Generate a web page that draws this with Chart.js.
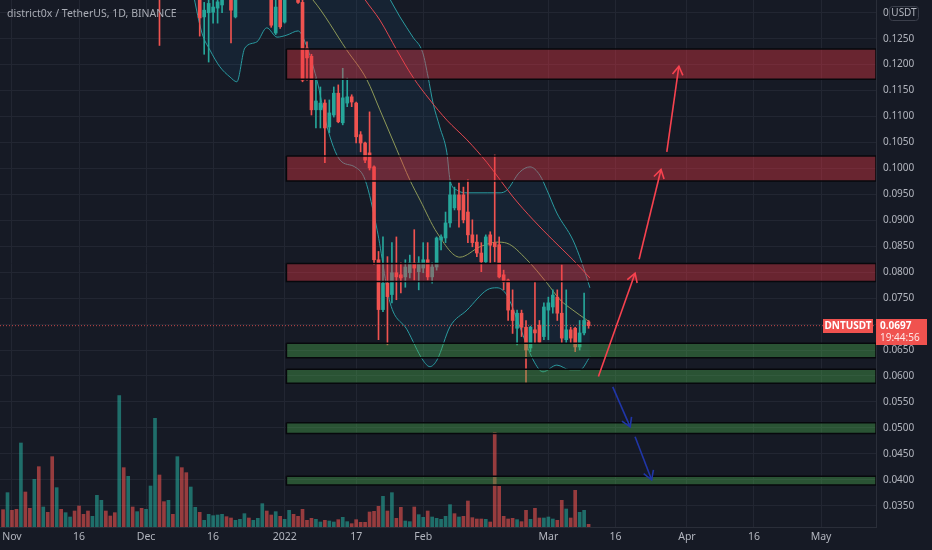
<!DOCTYPE html>
<html>
<head>
<meta charset="utf-8">
<title>DNTUSDT 1D</title>
<script src="https://cdn.jsdelivr.net/npm/chart.js@4.4.1/dist/chart.umd.min.js"></script>
<style>
  html, body { margin: 0; padding: 0; background: #161a25; }
  #wrap { width: 932px; height: 550px; position: relative; }
</style>
</head>
<body>
<div id="wrap"><canvas id="chart"></canvas></div>
<script>
// day 0 = 1 Nov 2021, one candle per day
const tickDays = [0, 15, 30, 45, 61, 77, 92, 120, 135, 151, 166, 181];
const tickLabels = ['Nov', '16', 'Dec', '16', '2022', '17', 'Feb', 'Mar', '16', 'Apr', '16', 'May'];
const priceTicks = [0.035, 0.040, 0.045, 0.050, 0.055, 0.060, 0.065, 0.070, 0.075, 0.080,
  0.085, 0.090, 0.095, 0.100, 0.105, 0.110, 0.115, 0.120, 0.125, 0.130];

const candleDays = [33, 42, 43, 44, 45, 46, 47, 49, 50, 58,
  59, 60, 61, 64, 65, 66, 67, 68, 69, 70,
  71, 72, 73, 74, 75, 76, 77, 78, 79, 80,
  81, 82, 83, 84, 85, 86, 87, 88, 89, 90,
  91, 92, 93, 94, 95, 96, 97, 98, 99, 100,
  101, 102, 103, 104, 105, 106, 107, 108, 109, 110,
  111, 112, 113, 114, 115, 116, 117, 118, 119, 120,
  121, 122, 123, 124, 125, 126, 127, 128, 129];
const opens = [.1400, .1360, .1292, .1300, .1301, .1309, .1315, .1340, .1292, .1340,
  .1261, .1340, .1282, .1340, .1320, .1232, .1216, .1113, .1113, .1126,
  .1080, .1103, .1145, .1088, .1126, .1138, .1126, .1065, .1049, .1030,
  .1003, .0824, .0728, .0779, .0757, .0799, .0795, .0791, .0799, .0818,
  .0801, .0808, .0824, .0791, .0810, .0862, .0866, .0895, .0924, .0949,
  .0949, .0916, .0872, .0858, .0837, .0820, .0872, .0857, .0853, .0795,
  .0785, .0727, .0692, .0721, .0694, .0654, .0689, .0698, .0676, .0727,
  .0733, .0752, .0721, .0670, .0689, .0692, .0656, .0683, .0704];
const highs = [.1420, .1380, .1320, .1340, .1330, .1340, .1360, .1360, .1360, .1360,
  .1330, .1360, .1360, .1360, .1330, .1244, .1220, .1174, .1157, .1132,
  .1132, .1157, .1161, .1193, .1174, .1142, .1128, .1071, .1051, .1109,
  .1005, .0840, .0868, .0830, .0857, .0868, .0818, .0824, .0833, .0882,
  .0830, .0857, .0857, .0818, .0868, .0872, .0916, .0978, .0964, .0972,
  .0964, .0978, .0901, .0872, .0857, .0872, .0878, .1026, .0868, .0804,
  .0787, .0766, .0727, .0727, .0707, .0696, .0781, .0707, .0741, .0752,
  .0766, .0766, .0814, .0766, .0694, .0694, .0707, .0760, .0707];
const lows = [.1237, .1255, .1220, .1205, .1280, .1280, .1300, .1242, .1290, .1272,
  .1258, .1270, .1280, .1318, .1167, .1170, .1103, .1078, .1078, .1011,
  .1069, .1099, .1088, .1084, .1119, .1119, .1049, .1032, .1011, .0997,
  .0815, .0670, .0724, .0660, .0741, .0747, .0760, .0771, .0789, .0785,
  .0766, .0799, .0785, .0779, .0804, .0843, .0857, .0887, .0920, .0887,
  .0895, .0857, .0849, .0830, .0801, .0818, .0818, .0820, .0789, .0766,
  .0707, .0682, .0660, .0676, .0587, .0647, .0664, .0664, .0670, .0670,
  .0721, .0707, .0664, .0664, .0664, .0647, .0650, .0679, .0692];
const closes = [.1350, .1290, .1305, .1318, .1311, .1321, .1340, .1305, .1340, .1276,
  .1311, .1273, .1340, .1320, .1170, .1213, .1113, .1130, .1126, .1078,
  .1107, .1145, .1090, .1136, .1138, .1128, .1061, .1049, .1016, .1001,
  .0824, .0728, .0779, .0753, .0799, .0791, .0789, .0810, .0818, .0808,
  .0818, .0824, .0791, .0810, .0866, .0868, .0895, .0949, .0949, .0920,
  .0901, .0872, .0857, .0837, .0820, .0868, .0852, .0849, .0791, .0781,
  .0727, .0707, .0721, .0694, .0650, .0694, .0683, .0665, .0733, .0741,
  .0756, .0721, .0673, .0689, .0673, .0656, .0683, .0707, .0697];

// volume from day -2 (30 Oct) to day 129 (10 Mar)
const volStart = -2;
const volValues = [52, 103, 50, 53, 252, 105, 56, 143, 181, 60,
  44, 211, 118, 53, 43, 30, 48, 63, 38, 48,
  32, 95, 80, 48, 33, 43, 394, 178, 152, 60,
  46, 56, 53, 123, 326, 156, 76, 80, 38, 211,
  178, 163, 120, 59, 44, 20, 38, 34, 36, 38,
  31, 27, 20, 23, 40, 27, 20, 26, 70, 48,
  36, 46, 32, 23, 50, 38, 32, 53, 20, 26,
  23, 15, 20, 18, 15, 22, 29, 16, 10, 22,
  14, 14, 45, 47, 62, 92, 48, 103, 26, 59,
  18, 16, 60, 37, 29, 48, 30, 26, 23, 32,
  67, 40, 30, 32, 78, 28, 24, 24, 23, 15,
  284, 122, 32, 24, 26, 22, 16, 50, 23, 56,
  27, 27, 30, 24, 20, 80, 54, 27, 110, 44,
  50, 8];
const volDir = 'dudduddudu' + 'dduduudddd' + 'uuudddudud' + 'uduuuddudu' + 'dduuduuuuu' +
  'dduuuduuud' + 'duduuddddd' + 'uuduuduudd' + 'dddddududd' + 'uuduuduuuu' +
  'ududddddud' + 'ddddduddud' + 'duuudduddu' + 'ud';

// Bollinger bands (20, 2) and moving average
const upperDays = [40, 55, 70, 80, 84, 86.8, 89.7, 91.9, 93.1, 94.2, 95.7, 97.3, 98.0, 99.6,
  101.8, 106.3, 109.2, 110.7, 113.6, 115.9, 118.1, 119.7, 121.9, 125.5, 127.5, 129.3];
const upperVals = [0.160, 0.156, 0.148, 0.140, 0.1335, 0.1292, 0.1253, 0.1223, 0.1176, 0.1126, 0.1080, 0.1030, 0.0978, 0.0958,
  0.0953, 0.0953, 0.0953, 0.0958, 0.0993, 0.1003, 0.0987, 0.0958, 0.0914, 0.0862, 0.0818, 0.0770];
const lowerDays = [40, 42.5, 44.3, 46.5, 48.8, 50.3, 52.1, 54.8, 57.0, 59.3, 61.5, 64.0, 65.1, 68.2,
  70.5, 73.4, 76.7, 79.0, 81.7, 84.6, 88.4, 91.9, 93.5, 95.1, 98.0, 101.8, 106.3, 108.5,
  110.7, 113.6, 116.6, 118.8, 121.9, 124.8, 127.1, 129.3];
const lowerVals = [0.136, 0.1261, 0.1228, 0.1196, 0.1176, 0.1167, 0.1232, 0.1244, 0.1271, 0.1253, 0.1257, 0.1265, 0.1253, 0.1171,
  0.1080, 0.1016, 0.1003, 0.0978, 0.0881, 0.0741, 0.0689, 0.0631, 0.0618, 0.0631, 0.0695, 0.0727, 0.0766, 0.0770,
  0.0756, 0.0695, 0.0631, 0.0608, 0.0621, 0.0612, 0.0612, 0.0637];
const basisDays = [55, 67.3, 74.9, 79.4, 82.3, 86.1, 89.0, 91.3, 95.1, 100.2, 104.7, 108.5, 110.7,
  115.2, 119.7, 122.6, 125.5, 128.6, 129.3];
const basisVals = [0.142, 0.1325, 0.1228, 0.1171, 0.1113, 0.1036, 0.0978, 0.0939, 0.0876, 0.0829, 0.0849, 0.0858, 0.0856,
  0.0824, 0.0779, 0.0747, 0.0727, 0.0708, 0.0704];
const maDays = [72, 79.0, 82.3, 86.1, 89.7, 93.5, 97.3, 101.8, 106.3, 109.2, 112.1, 116.6, 121.0, 125.5, 129.3];
const maVals = [0.142, 0.1325, 0.1286, 0.1228, 0.1176, 0.1132, 0.1093, 0.1055, 0.1011, 0.0978, 0.0945, 0.0901, 0.0862, 0.0824, 0.0789];

// drawn zones [top, bottom], starting 1 Jan 2022
const zoneStart = 61.4;
const redZones = [[0.1230, 0.1172], [0.1024, 0.0976], [0.0817, 0.0782]];
const greenZones = [[0.0663, 0.0635], [0.0613, 0.0586], [0.0510, 0.0489], [0.0407, 0.0390]];

// arrows [fromDay, fromPrice, toDay, toPrice]
const arrowPaths = [[131.2, 0.0599, 139.4, 0.0798], [140.3, 0.0825, 145.2, 0.0998], [146.5, 0.1032, 149.2, 0.1197],
  [134.4, 0.0579, 138.3, 0.0502], [139.4, 0.0483, 143.1, 0.0400]];
const arrowKinds = ['up', 'up', 'up', 'down', 'down'];

const lastPrice = closes[closes.length - 1];
const xMin = -2.68, xMax = 193.3;

const upCol = '#26a69a', downCol = '#ef5350';
const arrowCol = { up: '#f7424f', down: '#2036a8' };
const candleCol = i => closes[i] >= opens[i] ? upCol : downCol;

Chart.defaults.font.family = "'Noto Sans', 'DejaVu Sans', sans-serif";
Chart.defaults.color = '#b2b5be';

const pts = (xs, ys) => xs.map((d, i) => ({ x: d, y: ys[i] }));
const lineBase = { type: 'line', pointRadius: 0, borderWidth: 1, fill: false, cubicInterpolationMode: 'monotone' };

const datasets = [];
datasets.push({
  type: 'bar', yAxisID: 'yv', order: 9, grouped: false, barThickness: 3,
  data: volValues.map((v, i) => ({ x: volStart + i, y: v })),
  backgroundColor: c => volDir[c.dataIndex] === 'u' ? 'rgba(38,166,154,0.6)' : 'rgba(239,83,80,0.6)'
});
const lowerIdx = datasets.push(Object.assign({}, lineBase, {
  order: 8, data: pts(lowerDays, lowerVals), borderColor: '#2a9ba0'
})) - 1;
datasets.push(Object.assign({}, lineBase, {
  order: 8, data: pts(upperDays, upperVals), borderColor: '#2a9ba0',
  fill: lowerIdx, backgroundColor: 'rgba(33,150,243,0.07)'
}));
datasets.push(Object.assign({}, lineBase, { order: 7, data: pts(basisDays, basisVals), borderColor: '#8e9a58' }));
datasets.push(Object.assign({}, lineBase, { order: 7, data: pts(maDays, maVals), borderColor: '#e2474f' }));
datasets.push({
  type: 'bar', order: 6, grouped: false, barThickness: 1,
  data: candleDays.map((d, i) => ({ x: d, y: [lows[i], highs[i]] })),
  backgroundColor: c => candleCol(c.dataIndex)
});
datasets.push({
  type: 'bar', order: 5, grouped: false, barThickness: 3, minBarLength: 1,
  data: candleDays.map((d, i) => ({ x: d, y: [opens[i], closes[i]] })),
  backgroundColor: c => candleCol(c.dataIndex)
});
const zoneSet = (z, fillCol) => ({
  type: 'line', order: 2, pointRadius: 0, borderWidth: 1.5, borderColor: '#07080c',
  backgroundColor: fillCol, fill: 'shape',
  data: [{ x: zoneStart, y: z[0] }, { x: xMax, y: z[0] }, { x: xMax, y: z[1] },
    { x: zoneStart, y: z[1] }, { x: zoneStart, y: z[0] }]
});
redZones.forEach(z => datasets.push(zoneSet(z, 'rgba(242,54,69,0.38)')));
greenZones.forEach(z => datasets.push(zoneSet(z, 'rgba(76,175,80,0.38)')));
datasets.push({
  type: 'line', order: 1, pointRadius: 0, borderWidth: 1, borderDash: [1, 2],
  borderColor: 'rgba(239,83,80,0.8)',
  data: [{ x: xMin, y: lastPrice }, { x: xMax, y: lastPrice }]
});
arrowPaths.forEach((p, i) => datasets.push({
  type: 'line', order: 0, pointRadius: 0, borderWidth: 1.6, borderColor: arrowCol[arrowKinds[i]],
  data: [{ x: p[0], y: p[1] }, { x: p[2], y: p[3] }]
}));

const decor = {
  id: 'decor',
  afterDatasetsDraw(chart) {
    const { ctx, scales: { x, y } } = chart;
    arrowPaths.forEach((p, i) => {
      const x1 = x.getPixelForValue(p[0]), y1 = y.getPixelForValue(p[1]);
      const x2 = x.getPixelForValue(p[2]), y2 = y.getPixelForValue(p[3]);
      const ang = Math.atan2(y2 - y1, x2 - x1);
      const len = 10;
      ctx.save();
      ctx.strokeStyle = arrowCol[arrowKinds[i]];
      ctx.lineWidth = 1.6;
      ctx.beginPath();
      ctx.moveTo(x2 - len * Math.cos(ang - 0.55), y2 - len * Math.sin(ang - 0.55));
      ctx.lineTo(x2, y2);
      ctx.lineTo(x2 - len * Math.cos(ang + 0.55), y2 - len * Math.sin(ang + 0.55));
      ctx.stroke();
      ctx.restore();
    });
  },
  afterDraw(chart) {
    const { ctx, chartArea: a, scales: { y } } = chart;
    ctx.save();
    ctx.textBaseline = 'middle';
    ctx.font = "10.5px 'Noto Sans'";
    ctx.fillStyle = '#a9acb5';
    ctx.fillText('district0x / TetherUS, 1D, BINANCE', 7, 14);

    ctx.font = "10px 'Noto Sans'";
    ctx.fillStyle = '#b2b5be';
    ctx.fillText('0', a.right + 7, 13);
    ctx.strokeStyle = '#3b3f4b';
    ctx.lineWidth = 1;
    ctx.beginPath();
    ctx.roundRect(a.right + 13.5, 6.5, 29, 14, 3);
    ctx.stroke();
    ctx.textAlign = 'center';
    ctx.fillText('USDT', a.right + 28, 13.5);

    const py = Math.round(y.getPixelForValue(lastPrice));
    ctx.fillStyle = '#f0524f';
    ctx.fillRect(a.right, py - 7, 51, 26);
    ctx.fillRect(a.right - 53, py - 7, 50, 14);
    ctx.fillStyle = '#ffffff';
    ctx.font = "bold 10px 'Noto Sans'";
    ctx.fillText('DNTUSDT', a.right - 28, py);
    ctx.textAlign = 'left';
    ctx.fillText(lastPrice.toFixed(4), a.right + 4, py);
    ctx.font = "10px 'Noto Sans'";
    ctx.fillStyle = 'rgba(255,255,255,0.85)';
    ctx.fillText('19:44:56', a.right + 4, py + 12);
    ctx.restore();
  }
};

new Chart(document.getElementById('chart'), {
  type: 'line',
  data: { datasets },
  plugins: [decor],
  options: {
    responsive: true,
    maintainAspectRatio: false,
    animation: false,
    events: [],
    layout: { padding: 0 },
    plugins: { legend: { display: false }, tooltip: { enabled: false } },
    scales: {
      x: {
        type: 'linear', min: xMin, max: xMax, offset: false,
        grid: { color: '#222632', offset: false, drawTicks: false },
        border: { color: '#2a2e39' },
        afterBuildTicks: s => { s.ticks = tickDays.map(v => ({ value: v })); },
        afterFit: s => { s.height = 23; s.paddingLeft = 0; s.paddingRight = 0; },
        ticks: {
          autoSkip: false, maxRotation: 0, padding: 4,
          font: { size: 10.5 }, color: '#b2b5be',
          callback: (v, i) => tickLabels[i]
        }
      },
      y: {
        type: 'linear', position: 'right', min: 0.0309, max: 0.13246,
        beginAtZero: false, bounds: 'data',
        grid: { color: '#222632', drawTicks: false },
        border: { color: '#2a2e39' },
        afterBuildTicks: s => { s.ticks = priceTicks.map(v => ({ value: v })); },
        afterFit: s => { s.width = 56; s.paddingTop = 0; s.paddingBottom = 0; },
        ticks: {
          autoSkip: false, padding: 7, font: { size: 10 }, color: '#b2b5be',
          callback: v => v > 0.1299 ? '' : v.toFixed(4)
        }
      },
      yv: { type: 'linear', display: false, min: 0, max: 1581, beginAtZero: true }
    }
  }
});
</script>
</body>
</html>
